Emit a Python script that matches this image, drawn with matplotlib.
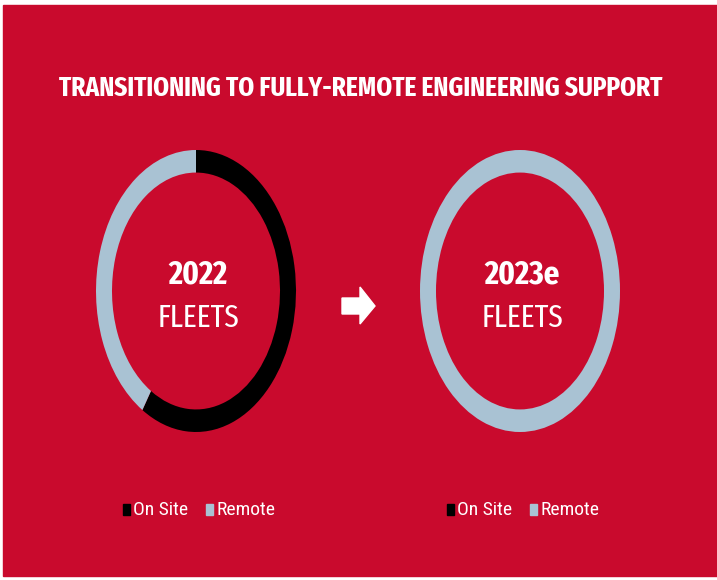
import matplotlib.pyplot as plt
from matplotlib.patches import Rectangle, Polygon

# fleet support split, percent of fleets
YEARS = ["2022", "2023e"]
ON_SITE = [59, 0]
REMOTE = [41, 100]
LEGEND_LABELS = ["On Site", "Remote"]

TITLE = "TRANSITIONING TO FULLY-REMOTE ENGINEERING SUPPORT"
SUBTITLE = "FLEETS"

RED = "#C90A2D"
BLACK = "#000000"
GREY = "#A9C2D3"
FONT = ["Roboto Condensed", "DejaVu Sans"]
NARROW = ["Fira Sans Extra Condensed", "Roboto Condensed", "DejaVu Sans"]

W, H = 717, 580
fig = plt.figure(figsize=(W / 100, H / 100), dpi=100, facecolor="white")

# full-figure axes in pixel units (y down)
bg = fig.add_axes([0, 0, 1, 1])
bg.set_xlim(0, W)
bg.set_ylim(H, 0)
bg.axis("off")
bg.add_patch(Rectangle((3, 5), W - 3, 571, color=RED, zorder=0))

title = bg.text(361, 88, TITLE, color="white", fontsize=22, fontweight="bold",
                family=NARROW, ha="center", va="center")

# donut charts, slightly squeezed horizontally
centers = [(196, 291), (520, 291)]
rx, ry = 100, 141
labels = []
for (cx, cy), year, on, rem in zip(centers, YEARS, ON_SITE, REMOTE):
    ax = fig.add_axes([(cx - rx) / W, 1 - (cy + ry) / H, 2 * rx / W, 2 * ry / H])
    ax.pie([on, rem], colors=[BLACK, GREY], startangle=90, counterclock=False,
           radius=1, wedgeprops=dict(width=0.16, linewidth=0))
    ax.set_aspect("auto")
    ax.set_xlim(-1, 1)
    ax.set_ylim(-1, 1)
    ax.axis("off")

    bg.text(cx + 2, cy - 16, year, color="white", fontsize=24, fontweight="bold",
            family=NARROW, ha="center", va="center")
    bg.text(cx + 2, cy + 27, SUBTITLE, color="white", fontsize=23,
            family=NARROW, ha="center", va="center")

    # legend below each donut
    lx, ly = cx - 73, 510
    for color, label, dx in zip([BLACK, GREY], LEGEND_LABELS, [0, 83]):
        bg.add_patch(Rectangle((lx + dx, ly - 6), 7, 11, color=color))
        bg.text(lx + dx + 10, ly, label, color="white", fontsize=14,
                family=FONT, ha="left", va="center")

# keep the title inside the 60..663 px band
fig.canvas.draw()
tw = title.get_window_extent().width
if tw > 603:
    title.set_fontsize(22 * 603 / tw)

# arrow between the two years
bg.add_patch(Polygon([(342, 298), (360, 298), (360, 287), (375, 306),
                      (360, 324), (360, 314), (342, 314)],
                     closed=True, color="white"))

fig.savefig("out.png", dpi=100, facecolor="white")
